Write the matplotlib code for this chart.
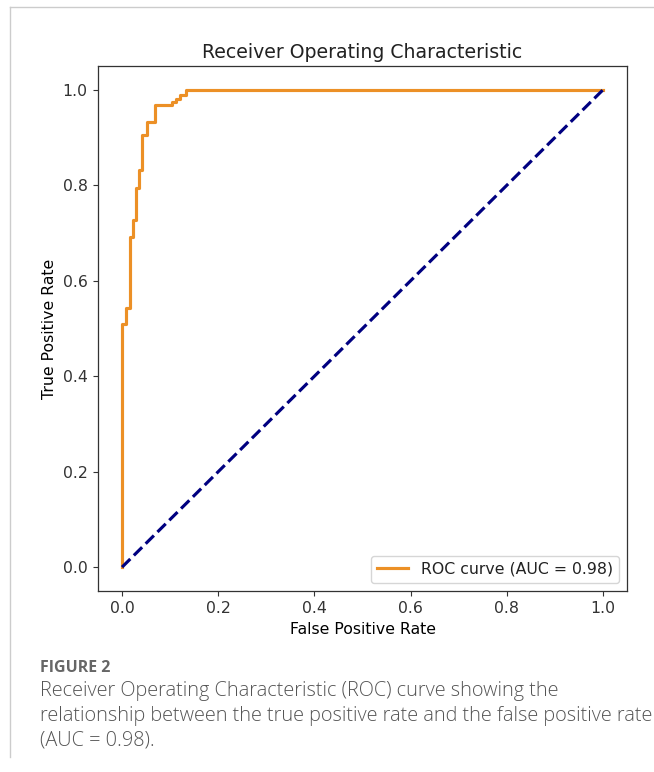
import matplotlib
matplotlib.use("Agg")
import matplotlib.pyplot as plt
from matplotlib.lines import Line2D

# ROC curve corner points
fpr = [0.0, 0.0, 0.008, 0.008, 0.017, 0.017, 0.023, 0.023, 0.029, 0.029,
       0.036, 0.036, 0.041, 0.041, 0.052, 0.052, 0.069, 0.069, 0.103, 0.103,
       0.112, 0.112, 0.121, 0.121, 0.133, 0.133, 1.0]
tpr = [0.0, 0.51, 0.51, 0.543, 0.543, 0.692, 0.692, 0.727, 0.727, 0.794,
       0.794, 0.832, 0.832, 0.906, 0.906, 0.933, 0.933, 0.969, 0.969, 0.974,
       0.974, 0.980, 0.980, 0.989, 0.989, 1.0, 1.0]
chance = [0.0, 1.0]
roc_auc = 0.98

caption_head = "FIGURE 2"
caption_lines = [
    "Receiver Operating Characteristic (ROC) curve showing the",
    "relationship between the true positive rate and the false positive rate",
    "(AUC = 0.98).",
]

scale = 1.13
plt.rcParams['font.size'] = 10 * scale
plt.rcParams['xtick.major.size'] = 3.5 * scale
plt.rcParams['ytick.major.size'] = 3.5 * scale
plt.rcParams['axes.linewidth'] = 0.8 * scale
plt.rcParams['text.color'] = '#222222'
plt.rcParams['xtick.color'] = '#333333'
plt.rcParams['ytick.color'] = '#333333'
plt.rcParams['axes.edgecolor'] = '#333333'

fig = plt.figure(figsize=(6.54, 7.72), dpi=100)
ax = fig.add_axes([98 / 654, 1 - 591 / 772, (627 - 98) / 654, (591 - 66) / 772])

ax.plot(fpr, tpr, color='#ec9026', lw=2 * scale, label=f'ROC curve (AUC = {roc_auc:.2f})')
ax.plot(chance, chance, color='navy', lw=2 * scale, linestyle='--')
ax.set_title('Receiver Operating Characteristic', fontsize=12 * scale)
ax.set_xlabel('False Positive Rate')
ax.set_ylabel('True Positive Rate')
ax.set_xticks([0.0, 0.2, 0.4, 0.6, 0.8, 1.0])
ax.set_yticks([0.0, 0.2, 0.4, 0.6, 0.8, 1.0])
ax.legend(loc='lower right')

# page frame lines
fig.add_artist(Line2D([10 / 654, 10 / 654], [1 - 7 / 772, 1 - 757 / 772], color='#cccccc', lw=1))
fig.add_artist(Line2D([10 / 654, 1.0], [1 - 7 / 772, 1 - 7 / 772], color='#cccccc', lw=1))

fig.text(40 / 654, 1 - 668 / 772, caption_head, fontsize=11.5, fontweight='bold',
         color='#666666', family=['Open Sans', 'DejaVu Sans'], va='center')
for i, line in enumerate(caption_lines):
    fig.text(40 / 654, 1 - (691 + 25 * i) / 772, line, fontsize=14.3, fontweight='light',
             color='#555555', family=['Open Sans', 'DejaVu Sans'], va='center')

fig.savefig('out.png', dpi=100)
